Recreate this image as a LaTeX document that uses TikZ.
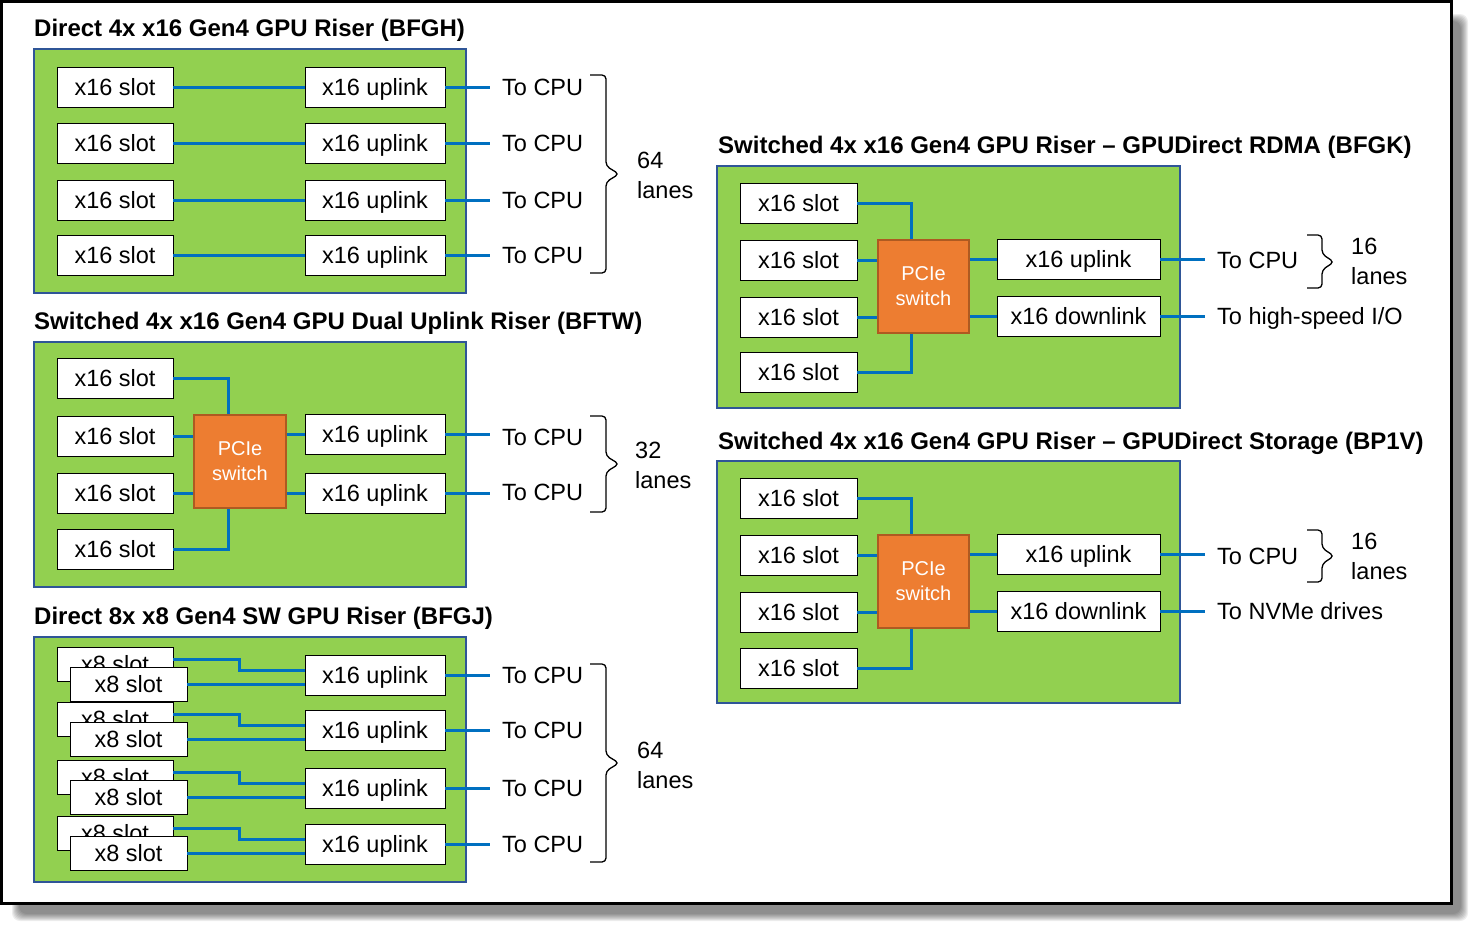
\documentclass[tikz,border=0pt]{standalone}
\usepackage{fontspec}
\setmainfont{Liberation Sans}
\definecolor{boardgreen}{RGB}{146,208,80}
\definecolor{panelblue}{RGB}{47,85,151}
\definecolor{linkblue}{RGB}{0,112,192}
\definecolor{swfill}{RGB}{237,125,49}
\definecolor{swborder}{RGB}{174,90,33}
\newcommand\bodyfont{\fontsize{23.5}{28}\selectfont}
\newcommand\bracer[6]{\draw[brc] (#1,#4) -- (#2,#4) -- (#2,#5-8) -- (#3,#5) -- (#2,#5+8) -- (#2,#6) -- (#1,#6);}
\begin{document}
\begin{tikzpicture}[x=1pt,y=-1pt,
  box/.style={draw=black, line width=0.8pt, fill=white, inner sep=0pt, text height=16.8pt, text depth=0pt, font=\bodyfont},
  slot/.style={box, minimum width=116pt, minimum height=40pt},
  upl/.style={box, minimum width=140pt, minimum height=40pt},
  kslot/.style={box, minimum width=117pt, minimum height=40pt},
  wup/.style={box, minimum width=163pt, minimum height=40pt},
  eight/.style={box, minimum width=116pt, minimum height=34pt},
  eightf/.style={box, minimum width=117pt, minimum height=34pt},
  panel/.style={draw=panelblue, line width=2pt, fill=boardgreen},
  sw/.style={draw=swborder, line width=1.5pt, fill=swfill, text=white, minimum width=92pt, minimum height=93pt, align=center, font=\fontsize{20}{25}\selectfont, inner sep=0pt},
  link/.style={draw=linkblue, line width=3pt},
  tolink/.style={link, shorten >=12pt},
  lbl/.style={anchor=west, inner sep=0pt, text height=16.8pt, text depth=0pt, font=\bodyfont},
  ttl/.style={anchor=base west, inner sep=0pt, font=\fontsize{24}{28}\bfseries\selectfont},
  brc/.style={draw=black, line width=1.3pt, rounded corners=4pt},
  lanes/.style={anchor=west, align=left, inner sep=0pt, font=\fontsize{23.5}{30}\selectfont}
]
\useasboundingbox (0,0) rectangle (1482,935);
% shadow and frame
\foreach \k in {0,...,7}
  \fill[black, opacity=0.07, rounded corners=8pt] (12+\k,14+\k) rectangle (1468-\k,921-\k);
\draw[line width=3pt, fill=white] (1,1) rectangle (1451,903);

% ================= BFGH =================
\node[ttl] (t1) at (34,36) {Direct 4x x16 Gen4 GPU Riser (BFGH)};
\draw[panel] (34,49) rectangle (466,293);
\foreach \i/\y in {1/87,2/143,3/200,4/255}{
  \node[slot] (hs\i) at (115,\y) {x16 slot};
  \node[upl] (hu\i) at (375,\y) {x16 uplink};
  \node[lbl] (hc\i) at (502,\y) {To CPU};
  \draw[link] (hs\i.east) -- (hu\i.west);
  \draw[tolink] (hu\i.east) -- (hu\i.east -| hc\i.west);
}
\bracer{590}{606}{619}{75}{174}{273}
\node[lanes] (hl) at (637,175) {64\\lanes};

% ================= BFTW =================
\node[ttl] (t2) at (34,329) {Switched 4x x16 Gen4 GPU Dual Uplink Riser (BFTW)};
\draw[panel] (34,342) rectangle (466,587);
\foreach \i/\y in {1/378,2/436,3/493,4/549}{
  \node[slot] (ws\i) at (115,\y) {x16 slot};
}
\node[sw] (wsw) at (240,461.5) {PCIe\\switch};
\node[upl] (wu1) at (375,434) {x16 uplink};
\node[upl] (wu2) at (375,493) {x16 uplink};
\node[lbl] (wc1) at (502,437) {To CPU};
\node[lbl] (wc2) at (502,492) {To CPU};
\draw[link] (ws1.east) -| ([xshift=-12pt]wsw.north);
\draw[link] (ws2.east) -- (ws2.east -| wsw.west);
\draw[link] (ws3.east) -- (ws3.east -| wsw.west);
\draw[link] (ws4.east) -| ([xshift=-12pt]wsw.south);
\draw[link] (wu1.west -| wsw.east) -- (wu1.west);
\draw[link] (wu2.west -| wsw.east) -- (wu2.west);
\draw[tolink] (wu1.east) -- (wu1.east -| wc1.west);
\draw[tolink] (wu2.east) -- (wu2.east -| wc2.west);
\bracer{590}{606}{619}{416}{464}{512}
\node[lanes] (wl) at (635,465) {32\\lanes};

% ================= BFGJ =================
\node[ttl] (t3) at (34,624) {Direct 8x x8 Gen4 SW GPU Riser (BFGJ)};
\draw[panel] (34,637) rectangle (466,882);
\foreach \i/\g in {1/675,2/730,3/788,4/844}{
  \node[eight] (jb\i) at (115,\g-11) {x8 slot};
  \node[eightf] (jf\i) at (128.5,\g+9) {x8 slot};
  \node[upl] (ju\i) at (375,\g) {x16 uplink};
  \node[lbl] (jc\i) at (502,\g) {To CPU};
  \draw[link] ([yshift=5pt]jb\i.east) -| (239,\g-5) -- ([yshift=5pt]ju\i.west);
  \draw[link] (jf\i.east) -- ([yshift=-9pt]ju\i.west);
  \draw[tolink] (ju\i.east) -- (ju\i.east -| jc\i.west);
}
\bracer{590}{606}{619}{664}{763}{862}
\node[lanes] (jl) at (637,765) {64\\lanes};

% ================= BFGK =================
\node[ttl] (t4) at (718,153) {Switched 4x x16 Gen4 GPU Riser -- GPUDirect RDMA (BFGK)};
\draw[panel] (717,166) rectangle (1180,408);
\foreach \i/\y in {1/203,2/260,3/317,4/372}{
  \node[kslot] (ks\i) at (798.5,\y) {x16 slot};
}
\node[sw, minimum width=91pt] (ksw) at (923.5,286.5) {PCIe\\switch};
\node[wup] (ku1) at (1078.5,259) {x16 uplink};
\node[wup] (ku2) at (1078.5,316) {x16 downlink};
\node[lbl] (kc1) at (1217,260) {To CPU};
\node[lbl] (kc2) at (1217,316) {To high-speed I/O};
\draw[link] (ks1.east) -| ([xshift=-12.5pt]ksw.north);
\draw[link] (ks2.east) -- (ks2.east -| ksw.west);
\draw[link] (ks3.east) -- (ks3.east -| ksw.west);
\draw[link] (ks4.east) -| ([xshift=-12.5pt]ksw.south);
\draw[link] (ku1.west -| ksw.east) -- (ku1.west);
\draw[link] (ku2.west -| ksw.east) -- (ku2.west);
\draw[tolink] (ku1.east) -- (ku1.east -| kc1.west);
\draw[tolink] (ku2.east) -- (ku2.east -| kc2.west);
\bracer{1307}{1322}{1334}{235}{262}{288}
\node[lanes] (kl) at (1351,261) {16\\lanes};

% ================= BP1V =================
\node[ttl] (t5) at (718,449) {Switched 4x x16 Gen4 GPU Riser -- GPUDirect Storage (BP1V)};
\draw[panel] (717,461) rectangle (1180,703);
\foreach \i/\y in {1/498,2/555,3/612,4/668}{
  \node[kslot] (ps\i) at (798.5,\y) {x16 slot};
}
\node[sw, minimum width=91pt] (psw) at (923.5,581.5) {PCIe\\switch};
\node[wup] (pu1) at (1078.5,554) {x16 uplink};
\node[wup] (pu2) at (1078.5,611) {x16 downlink};
\node[lbl] (pc1) at (1217,556) {To CPU};
\node[lbl] (pc2) at (1217,611) {To NVMe drives};
\draw[link] (ps1.east) -| ([xshift=-12.5pt]psw.north);
\draw[link] (ps2.east) -- (ps2.east -| psw.west);
\draw[link] (ps3.east) -- (ps3.east -| psw.west);
\draw[link] (ps4.east) -| ([xshift=-12.5pt]psw.south);
\draw[link] (pu1.west -| psw.east) -- (pu1.west);
\draw[link] (pu2.west -| psw.east) -- (pu2.west);
\draw[tolink] (pu1.east) -- (pu1.east -| pc1.west);
\draw[tolink] (pu2.east) -- (pu2.east -| pc2.west);
\bracer{1307}{1322}{1334}{530}{556}{582}
\node[lanes] (pl) at (1351,556) {16\\lanes};
\end{tikzpicture}
\end{document}
